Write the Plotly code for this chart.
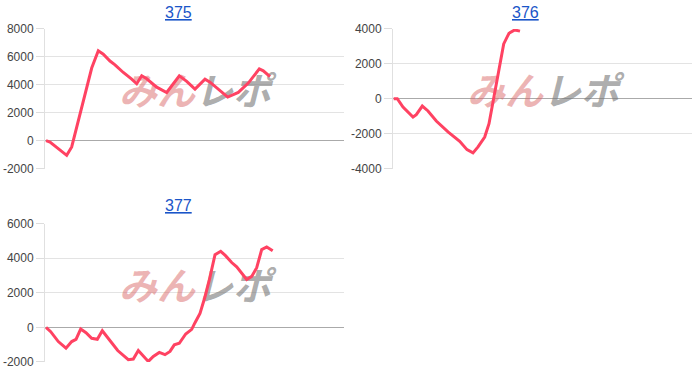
import plotly.graph_objects as go

# ---- data (x: games, y: coin difference) ----
titles = ["375", "376", "377"]

x375 = [1, 5, 21.7, 26.7, 46.7, 53.3, 58.3, 65, 70, 78.3, 86.7, 91.7, 96.7, 101.7,
        111.7, 121.7, 134.3, 141.7, 150, 160, 165, 175, 182.7, 193.3, 203.3, 214.3, 218.3, 225]
y375 = [0, -100, -1050, -450, 5200, 6430, 6190, 5700, 5430, 4880, 4400, 4070, 4640, 4430,
        3830, 3450, 4640, 4240, 3690, 4400, 4190, 3590, 3120, 3450, 4120, 5140, 5000, 4590]

x376 = [0.7, 4.3, 10, 20, 23.3, 29.3, 35, 43.3, 55, 60, 66.7, 74, 80, 85, 91.7, 96,
        100, 105, 110.7, 116, 121.7, 127]
y376 = [0, 0, -475, -1050, -915, -420, -700, -1275, -1900, -2130, -2440, -2915, -3100,
        -2760, -2190, -1430, -190, 1525, 3140, 3750, 3940, 3870]

x377 = [1, 5.7, 13.3, 21, 26.7, 31, 35.7, 41, 46.7, 52.3, 57.3, 61.7, 66.7, 72.7, 83.3,
        88.3, 93.3, 98.3, 103.3, 108.3, 114.3, 120, 125, 129.3, 134.3, 140.7, 146.7,
        150, 155, 160, 164.3, 170, 175.7, 180.5, 186.7, 191.7, 196.7, 201.7, 206.7,
        211.7, 216.7, 221.7, 227.7]
y377 = [0, -250, -820, -1200, -820, -690, -100, -310, -630, -690, -195, -540, -860,
        -1340, -1870, -1830, -1340, -1640, -1970, -1680, -1450, -1580, -1390, -1010,
        -920, -380, -115, 270, 810, 1770, 2730, 4200, 4400, 4150, 3750, 3500, 3130,
        2770, 2950, 3450, 4500, 4650, 4430]

yranges = [[-2000, 8000], [-4000, 4000], [-2000, 6000]]
tickvals = [[-2000, 0, 2000, 4000, 6000, 8000],
            [-4000, -2000, 0, 2000, 4000],
            [-2000, 0, 2000, 4000, 6000]]
ticktexts = [["-2000", "0", "2000", "4000", "6000", "8000"],
             ["-4000", "-2000", "0", "2000", "4000"],
             ["-2000", "0", "2000", "4000", "6000"]]

W, H = 700, 386
# pixel boxes of the plot areas: (left, right, top, bottom)
boxes = [(45, 344, 22.7, 167.7), (393, 692, 22.7, 167.7), (45, 344, 224.8, 368.3)]
title_pos = [(178, 5.8), (525, 5.8), (178, 206.3)]

LINE = "#ff4262"
fig = go.Figure()
datasets = [(x375, y375), (x376, y376), (x377, y377)]
layout = dict(width=W, height=H, margin=dict(l=0, r=0, t=0, b=0),
              paper_bgcolor="white", plot_bgcolor="white", showlegend=False,
              font=dict(family="Liberation Sans, Arial", size=12, color="#444"))
annotations = []
for i, ((xs, ys), box) in enumerate(zip(datasets, boxes)):
    n = i + 1
    xa = "x" if n == 1 else f"x{n}"
    ya = "y" if n == 1 else f"y{n}"
    l, r, t, b = box
    layout[f"xaxis{'' if n == 1 else n}"] = dict(
        domain=[l / W, r / W], range=[0, 299], showgrid=False, zeroline=False,
        showticklabels=False, showline=False, anchor=ya, fixedrange=True)
    layout[f"yaxis{'' if n == 1 else n}"] = dict(
        domain=[1 - b / H, 1 - t / H], range=yranges[i],
        tickmode="array", tickvals=tickvals[i], ticktext=ticktexts[i],
        showgrid=True, gridcolor="#e3e3e3", gridwidth=1,
        zeroline=True, zerolinecolor="#aaaaaa", zerolinewidth=1,
        showline=True, linecolor="#e0e0e0", linewidth=1,
        ticks="outside", ticklen=8, tickcolor="#dddddd",
        tickfont=dict(family="Liberation Sans, Arial", size=12, color="#444"),
        anchor=xa, fixedrange=True)
    # watermark (drawn below the line as a text mark)
    lo, hi = yranges[i]
    fig.add_trace(go.Scatter(
        x=[150], y=[lo + (hi - lo) * 0.52],
        mode="text", xaxis=xa, yaxis=ya, hoverinfo="skip",
        text=["<b><i><span style='color:rgba(218,105,105,0.5)'>みん</span>"
              "<span style='color:rgba(120,120,120,0.62)'>レポ</span></i></b>"],
        textfont=dict(family="Noto Sans CJK JP", size=38)))
    fig.add_trace(go.Scatter(x=xs, y=ys, mode="lines", xaxis=xa, yaxis=ya,
                             line=dict(color=LINE, width=3), hoverinfo="skip"))
    # title (link style)
    tx, ty = title_pos[i]
    annotations.append(dict(text=titles[i], x=tx / W, y=1 - ty / H, xref="paper", yref="paper",
                            showarrow=False, xanchor="center", yanchor="middle",
                            font=dict(family="Liberation Sans, Arial", size=16,
                                      color="#1a55c8", lineposition="under")))
layout["annotations"] = annotations
fig.update_layout(**layout)
fig.write_html("out.html", config={"displayModeBar": False})
